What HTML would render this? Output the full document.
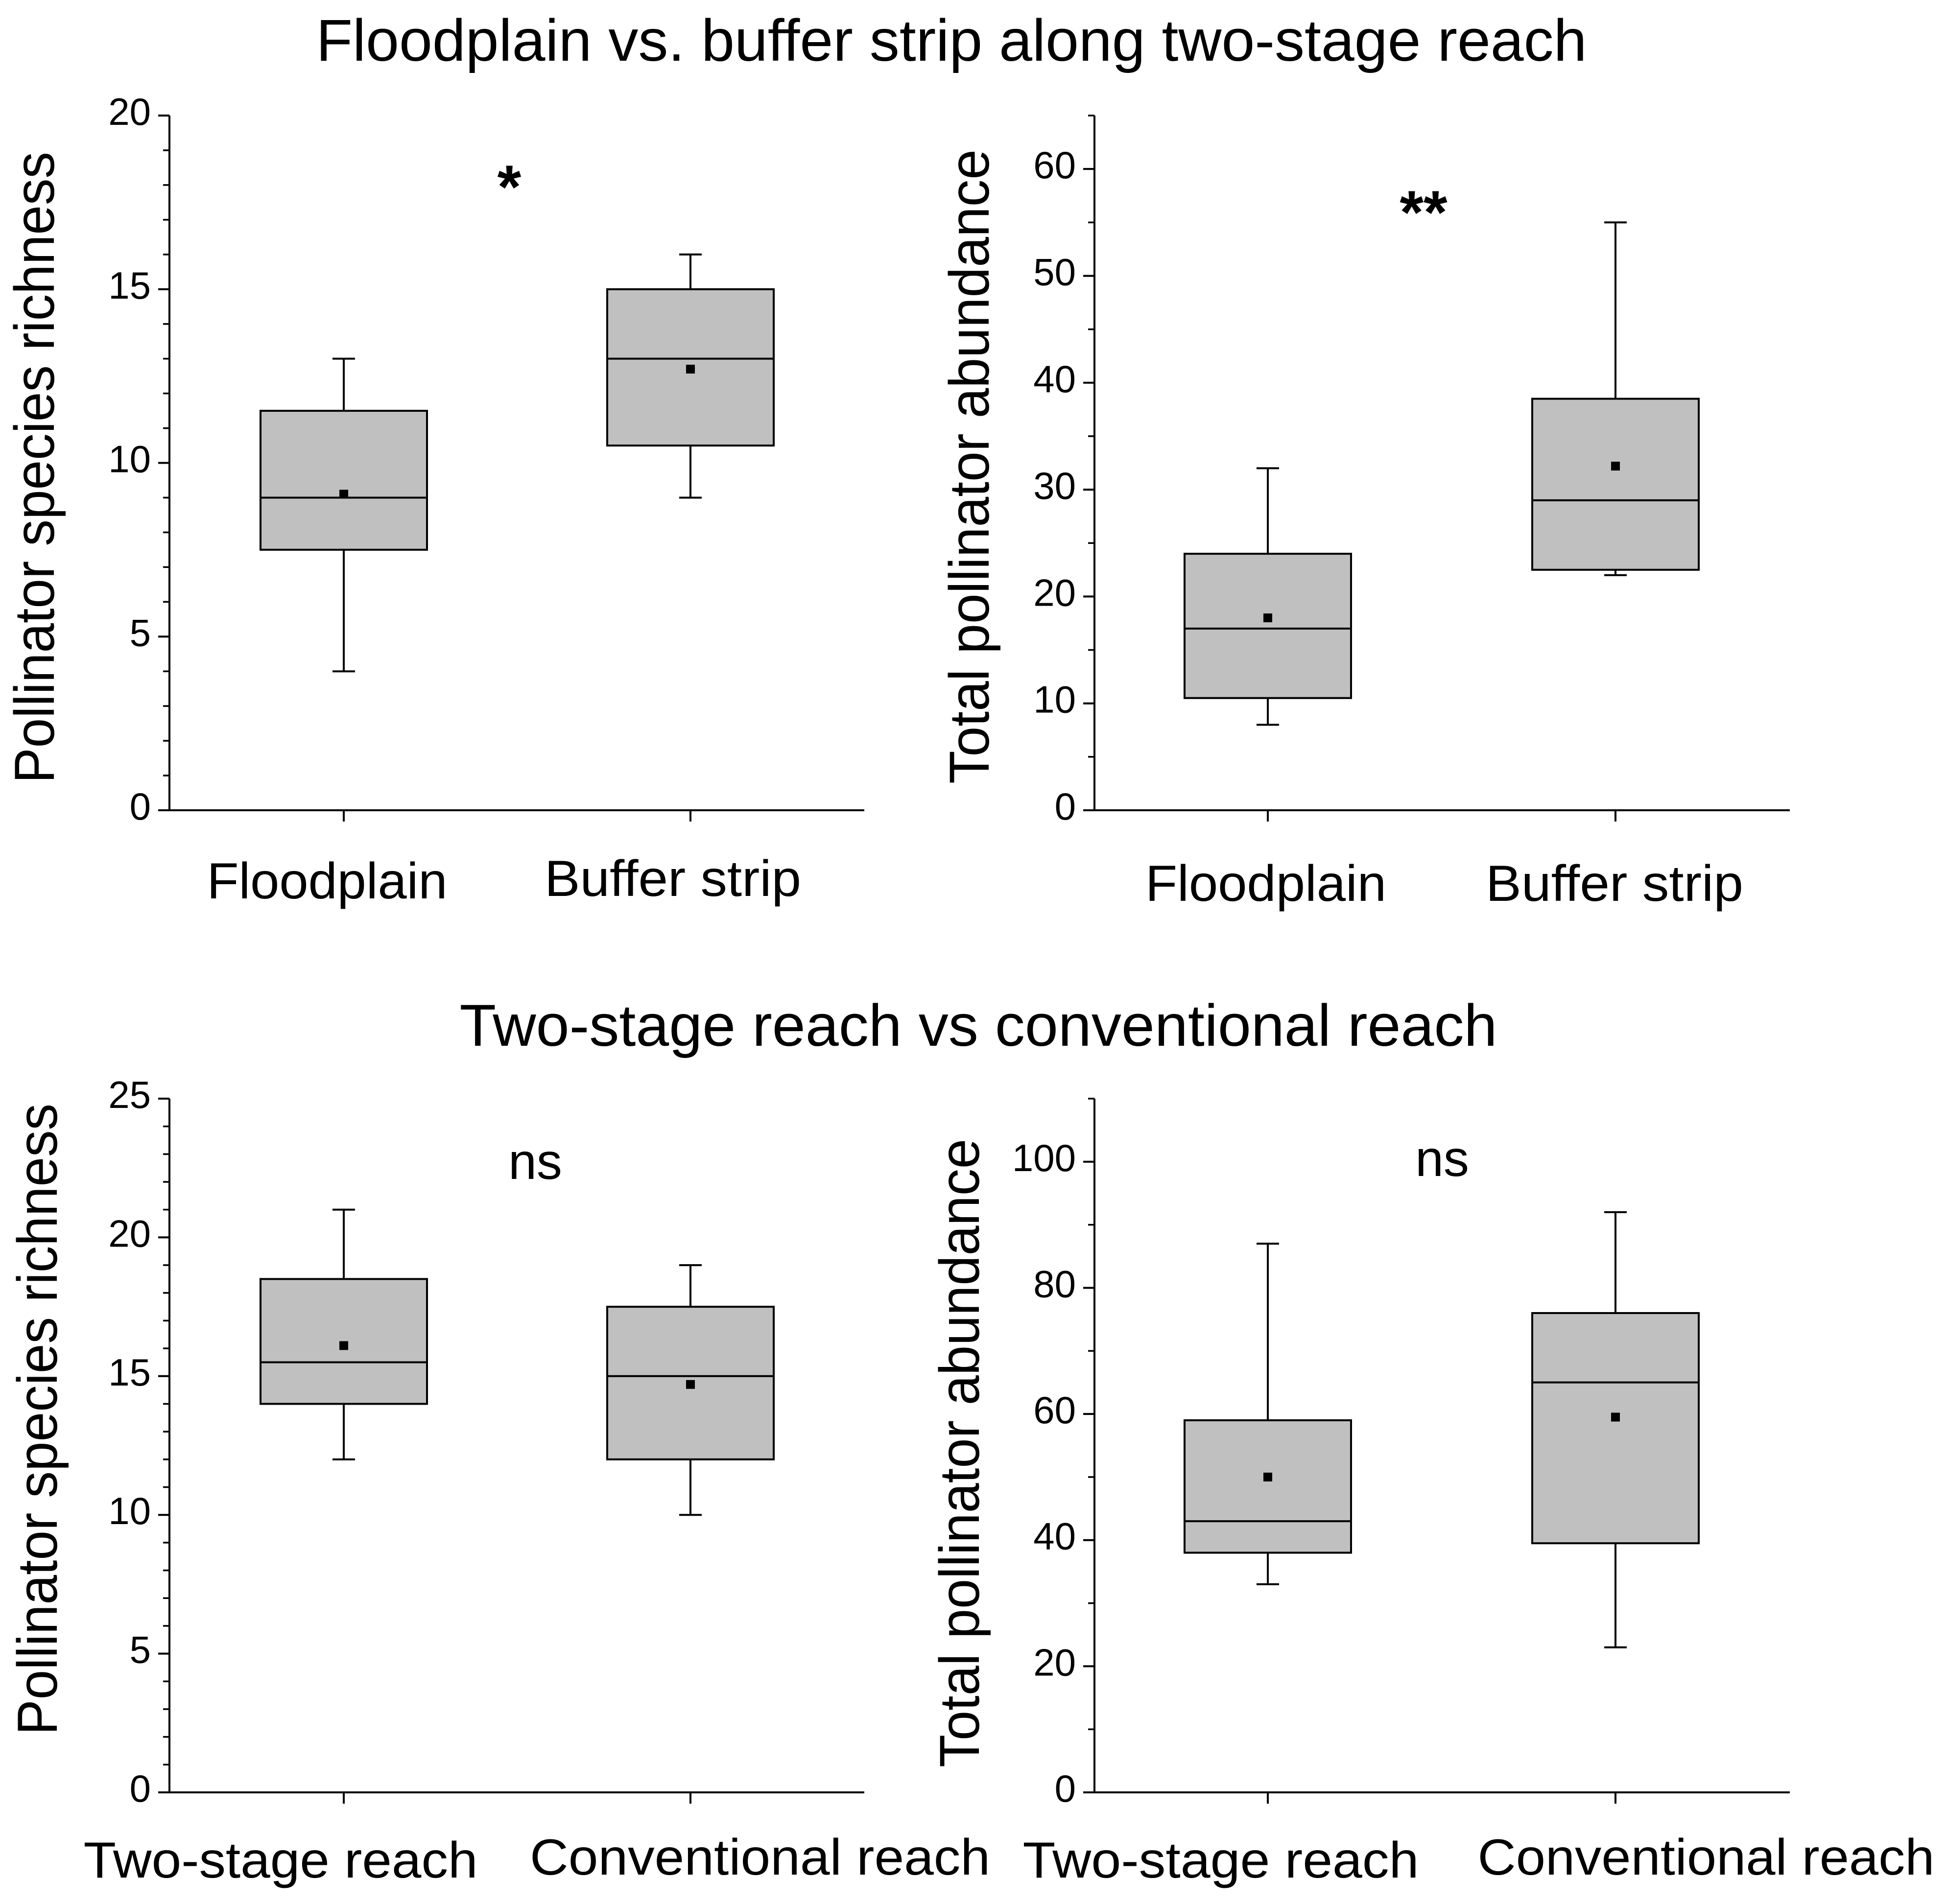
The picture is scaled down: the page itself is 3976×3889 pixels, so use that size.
<!DOCTYPE html>
<html><head><meta charset="utf-8"><style>
html,body{margin:0;padding:0;background:#fff;}
svg{display:block;font-family:"Liberation Sans",Arial,sans-serif;}
</style></head><body>
<svg id="fig" width="3976" height="3889" viewBox="0 0 3976 3889" xmlns="http://www.w3.org/2000/svg">
<rect width="3976" height="3889" fill="#fff"/>
<text x="1943" y="124" font-size="121" text-anchor="middle" textLength="2595" lengthAdjust="spacingAndGlyphs">Floodplain vs. buffer strip along two-stage reach</text>
<text x="1998" y="2136" font-size="121" text-anchor="middle" textLength="2119" lengthAdjust="spacingAndGlyphs">Two-stage reach vs conventional reach</text>
</svg>
<script>
// Panel A: richness floodplain vs buffer
const catsA = ["Floodplain","Buffer strip"];
const minA = [4,9], q1A = [7.5,10.5], medA = [9,13], q3A = [11.5,15], maxA = [13,16], meanA = [9.1,12.7];
const ticksA = [0,5,10,15,20];
// Panel B: abundance floodplain vs buffer
const catsB = ["Floodplain","Buffer strip"];
const minB = [8,22], q1B = [10.5,22.5], medB = [17,29], q3B = [24,38.5], maxB = [32,55], meanB = [18,32.2];
const ticksB = [0,10,20,30,40,50,60];
// Panel C: richness two-stage vs conventional
const catsC = ["Two-stage reach","Conventional reach"];
const minC = [12,10], q1C = [14,12], medC = [15.5,15], q3C = [18.5,17.5], maxC = [21,19], meanC = [16.1,14.7];
const ticksC = [0,5,10,15,20,25];
// Panel D: abundance two-stage vs conventional
const catsD = ["Two-stage reach","Conventional reach"];
const minD = [33,23], q1D = [38,39.5], medD = [43,65], q3D = [59,76], maxD = [87,92], meanD = [50,59.5];
const ticksD = [0,20,40,60,80,100];

const NS = "http://www.w3.org/2000/svg";
const svg = document.getElementById("fig");
function mk(tag, attrs, parent){
  const e = document.createElementNS(NS, tag);
  for (const k in attrs) e.setAttribute(k, attrs[k]);
  (parent||svg).appendChild(e);
  return e;
}
function panel(cfg){
  const g = mk("g", {});
  
  
  const y = v => cfg.y0 - (v - 0) / cfg.vmax * (cfg.y0 - cfg.yTop);
  const sw = 4;
  for (let v = 0; v <= cfg.vmax + 1e-9; v += cfg.minor) {
    const t = mk("line", {x1: cfg.ax - 13, x2: cfg.ax, y1: y(v), y2: y(v), stroke: "#000", "stroke-width": 3.5}, g);
    
    
  }
  cfg.ticks.forEach(v => {
    const t = mk("line", {x1: cfg.ax - 23, x2: cfg.ax, y1: y(v), y2: y(v), stroke: "#000", "stroke-width": 4}, g);
    
    
    const l = mk("text", {x: cfg.ax - 38, y: y(v) + 19, "font-size": 78, "text-anchor": "end"}, g);
    l.textContent = v;
    
    
  });
  const ya = mk("line", {x1: cfg.ax, x2: cfg.ax, y1: cfg.yTop, y2: cfg.y0, stroke: "#000", "stroke-width": sw}, g);
  
  
  const xa = mk("line", {x1: cfg.ax, x2: cfg.xEnd, y1: cfg.y0, y2: cfg.y0, stroke: "#000", "stroke-width": sw}, g);
  
  
  cfg.cats.forEach((c, i) => {
    const cx = cfg.cx[i];
    const tk = mk("line", {x1: cx, x2: cx, y1: cfg.y0, y2: cfg.y0 + 23, stroke: "#000", "stroke-width": 4}, g);
    
    
    const lb = mk("text", {x: cfg.lx[i], y: cfg.ly[i], "font-size": 104, "text-anchor": "middle", textLength: cfg.lw[i], lengthAdjust: "spacingAndGlyphs"}, g);
    lb.textContent = c;
    
    
    const w1 = mk("line", {x1: cx, x2: cx, y1: y(cfg.max[i]), y2: y(cfg.q3[i]), stroke: "#000", "stroke-width": sw}, g);
    
    
    const w2 = mk("line", {x1: cx, x2: cx, y1: y(cfg.q1[i]), y2: y(cfg.min[i]), stroke: "#000", "stroke-width": sw}, g);
    
    
    const c1 = mk("line", {x1: cx - 23, x2: cx + 23, y1: y(cfg.max[i]), y2: y(cfg.max[i]), stroke: "#000", "stroke-width": sw}, g);
    
    
    const c2 = mk("line", {x1: cx - 23, x2: cx + 23, y1: y(cfg.min[i]), y2: y(cfg.min[i]), stroke: "#000", "stroke-width": sw}, g);
    
    
    const bx = mk("rect", {x: cx - 170, width: 340, y: y(cfg.q3[i]), height: y(cfg.q1[i]) - y(cfg.q3[i]), fill: "#c0c0c0", stroke: "#000", "stroke-width": sw}, g);
    
    
    const md = mk("line", {x1: cx - 170, x2: cx + 170, y1: y(cfg.med[i]), y2: y(cfg.med[i]), stroke: "#000", "stroke-width": sw}, g);
    
    
    const mn = mk("rect", {x: cx - 9, y: y(cfg.mean[i]) - 9, width: 18, height: 18, fill: "#000"}, g);
    
    
  });
  const yt = mk("text", {x: 0, y: 0, "font-size": 115, "text-anchor": "middle", textLength: cfg.ytLen, lengthAdjust: "spacingAndGlyphs", transform: "translate(" + cfg.ytX + "," + cfg.ytY + ") rotate(-90)"}, g);
  yt.textContent = cfg.ytitle;
  
  
  const sg = mk("text", {x: cfg.sigX, y: cfg.sigY, "font-size": cfg.sigSize, "text-anchor": "middle", "font-weight": cfg.sigBold ? "bold" : "normal"}, g);
  sg.textContent = cfg.sig;
  
  
}
panel({name:"panel-richness-floodplain-buffer", cats:catsA, min:minA,q1:q1A,med:medA,q3:q3A,max:maxA,mean:meanA, ticks:ticksA, vmax:20, minor:1,
  ax:346, xEnd:1765, yTop:236, y0:1655, cx:[702,1410], lx:[668,1374], ly:[1835,1830], lw:[491,524],
  ytitle:"Pollinator species richness", ytX:110, ytY:955, ytLen:1290, sig:"*", sigX:1040, sigY:425, sigSize:125, sigBold:true});
panel({name:"panel-abundance-floodplain-buffer", cats:catsB, min:minB,q1:q1B,med:medB,q3:q3B,max:maxB,mean:meanB, ticks:ticksB, vmax:65, minor:5,
  ax:2235, xEnd:3655, yTop:236, y0:1655, cx:[2589,3299], lx:[2585,3297], ly:[1840,1840], lw:[492,526],
  ytitle:"Total pollinator abundance", ytX:2019, ytY:953, ytLen:1296, sig:"**", sigX:2907, sigY:477, sigSize:125, sigBold:true});
panel({name:"panel-richness-twostage-conventional", cats:catsC, min:minC,q1:q1C,med:medC,q3:q3C,max:maxC,mean:meanC, ticks:ticksC, vmax:25, minor:1,
  ax:346, xEnd:1765, yTop:2244, y0:3661, cx:[702,1410], lx:[573,1552], ly:[3835,3829], lw:[805,940],
  ytitle:"Pollinator species richness", ytX:116, ytY:2899, ytLen:1290, sig:"ns", sigX:1093, sigY:2408, sigSize:104, sigBold:false});
panel({name:"panel-abundance-twostage-conventional", cats:catsD, min:minD,q1:q1D,med:medD,q3:q3D,max:maxD,mean:meanD, ticks:ticksD, vmax:110, minor:10,
  ax:2235, xEnd:3655, yTop:2244, y0:3661, cx:[2589,3299], lx:[2493,3484], ly:[3835,3829], lw:[809,933],
  ytitle:"Total pollinator abundance", ytX:1999, ytY:2968, ytLen:1284, sig:"ns", sigX:2945, sigY:2402, sigSize:104, sigBold:false});
</script>
</body></html>
